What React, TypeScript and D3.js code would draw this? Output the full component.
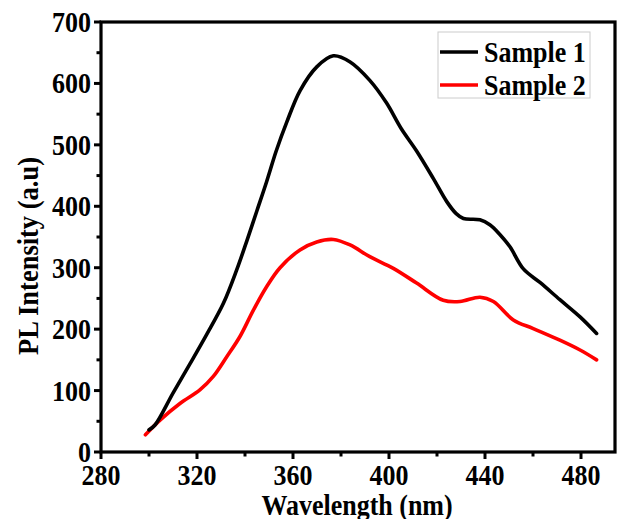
import React from "react";
import * as d3 from "d3";

const wl1 = [300, 302.5, 310, 317, 324, 331, 336.5, 340.7, 344.9, 349, 353, 357.4, 362.9, 369.9, 376.8, 383.8, 392, 399, 405, 411.5, 418.5, 424, 428, 431, 437.9, 442, 446, 450.4, 456, 462.9, 471.2, 479.6, 486.5];
const s1 = [36, 44, 96, 143, 191, 242, 296, 343, 392, 440, 490, 537, 588, 627, 645, 635, 605, 568, 527, 490, 445, 408, 388, 380, 378, 370, 355, 334, 298, 276, 248, 220, 193];

const wl2 = [298.5, 304.6, 312.9, 321.2, 326.8, 332.4, 337.9, 343.5, 349, 354.6, 362.9, 369.9, 376.8, 383.8, 392, 401.8, 411.5, 422.6, 429.6, 437.9, 443.5, 451.8, 460.1, 471.2, 479.6, 486.5];
const s2 = [28, 52, 79, 101, 123, 155, 188, 231, 269, 300, 329, 342, 346, 337, 318, 299, 275, 247, 245, 252, 245, 215, 201, 182, 166, 150];

const xTicks = [280, 320, 360, 400, 440, 480];
const xMinor = [300, 340, 380, 420, 460];
const yTicks = [0, 100, 200, 300, 400, 500, 600, 700];
const yMinor = [50, 150, 250, 350, 450, 550, 650];
const seriesNames = ["Sample 1", "Sample 2"];
const seriesColors = ["#000000", "#ff0000"];

const W = 627;
const H = 519;
const left = 101;
const right = 615;
const top = 22;
const bottom = 452;
const SY = 1.14;

function T(props: { x: number; y: number; anchor?: string; size?: number; rotate?: number; children: React.ReactNode }) {
  const { x, y, anchor = "start", size = 26, rotate = 0, children } = props;
  return (
    <text
      transform={`translate(${x},${y}) rotate(${rotate}) scale(1,${SY})`}
      textAnchor={anchor}
      fontSize={size}
    >
      {children}
    </text>
  );
}

export default function App() {
  const x = d3.scaleLinear().domain([280, 280 + (right - left) / 2.4]).range([left, right]);
  const y = d3.scaleLinear().domain([0, 700]).range([bottom, top]);
  const line = d3
    .line<[number, number]>()
    .x((d) => x(d[0]))
    .y((d) => y(d[1]))
    .curve(d3.curveCatmullRom.alpha(0.5));
  const d1 = line(wl1.map((w, i) => [w, s1[i]] as [number, number])) || "";
  const d2 = line(wl2.map((w, i) => [w, s2[i]] as [number, number])) || "";
  const font = "'Liberation Serif', 'Times New Roman', serif";

  return (
    <svg
      width={W}
      height={H}
      style={{ position: "absolute", left: 0, top: 0, background: "#fff" }}
      fontFamily={font}
      fontWeight="bold"
    >
      <rect x={0} y={0} width={W} height={H} fill="#fff" />
      <path d={d2} fill="none" stroke={seriesColors[1]} strokeWidth={3.6} strokeLinejoin="round" strokeLinecap="round" />
      <path d={d1} fill="none" stroke={seriesColors[0]} strokeWidth={3.6} strokeLinejoin="round" strokeLinecap="round" />
      <rect x={left} y={top} width={right - left} height={bottom - top} fill="none" stroke="#000" strokeWidth={3.2} />
      {xTicks.map((t) => (
        <g key={"xt" + t}>
          <line x1={x(t)} x2={x(t)} y1={bottom} y2={bottom + 7} stroke="#000" strokeWidth={3} />
          <T x={x(t)} y={485} anchor="middle">
            {t}
          </T>
        </g>
      ))}
      {xMinor.map((t) => (
        <line key={"xm" + t} x1={x(t)} x2={x(t)} y1={bottom} y2={bottom + 4.5} stroke="#000" strokeWidth={3} />
      ))}
      {yTicks.map((t) => (
        <g key={"yt" + t}>
          <line x1={left - 7} x2={left} y1={y(t)} y2={y(t)} stroke="#000" strokeWidth={3} />
          <T x={91} y={y(t) + 10} anchor="end">
            {t}
          </T>
        </g>
      ))}
      {yMinor.map((t) => (
        <line key={"ym" + t} x1={left - 4.5} x2={left} y1={y(t)} y2={y(t)} stroke="#000" strokeWidth={3} />
      ))}
      <T x={357} y={515} anchor="middle">
        Wavelength (nm)
      </T>
      <T x={38} y={256} anchor="middle" rotate={-90} size={26.5}>
        PL Intensity (a.u)
      </T>
      <rect x={438} y={32} width={152} height={66} fill="#fff" stroke="#cccccc" strokeWidth={1} />
      {seriesNames.map((n, i) => (
        <g key={n}>
          <line x1={440} x2={478} y1={52 + i * 33} y2={52 + i * 33} stroke={seriesColors[i]} strokeWidth={3.6} />
          <T x={484} y={52 + i * 33 + 9.5}>
            {n}
          </T>
        </g>
      ))}
    </svg>
  );
}
